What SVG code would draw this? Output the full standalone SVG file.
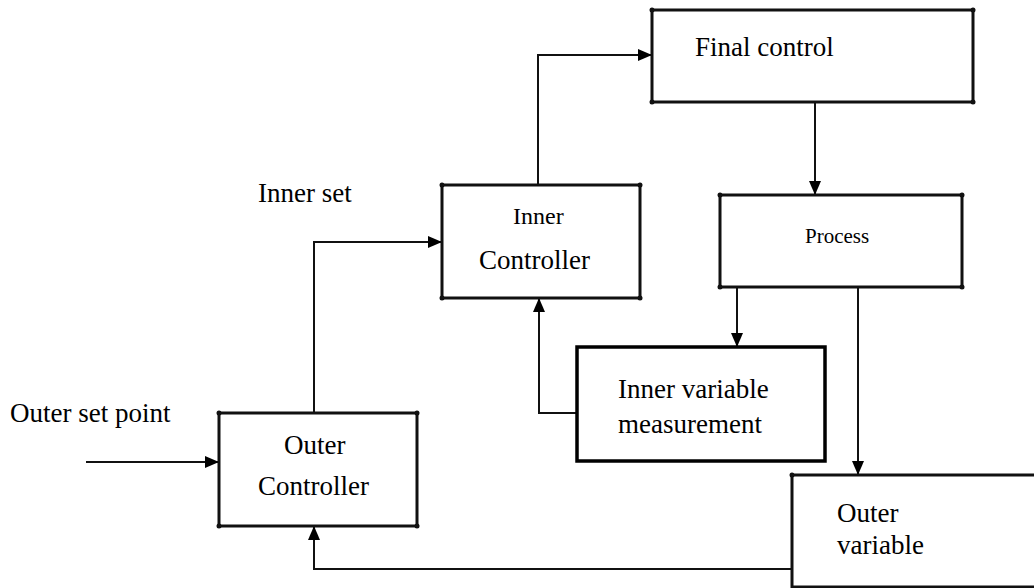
<svg xmlns="http://www.w3.org/2000/svg" width="1034" height="588" viewBox="0 0 1034 588">
<style>
.box{fill:#fff;stroke:#111;stroke-width:3}
.box2{fill:#fff;stroke:#000;stroke-width:3.5}
.dot{fill:#111}
.t{font-family:"Liberation Serif","Times New Roman",serif;fill:#000;font-size:27px}
.s24{font-size:24px}
.s21{font-size:21px}
.c{fill:none;stroke:#111;stroke-width:2;marker-end:url(#ah)}
</style>
<defs>
<marker id="ah" markerUnits="userSpaceOnUse" markerWidth="14" markerHeight="12" refX="13" refY="6" orient="auto">
<path d="M0,0 L14,6 L0,12 Z" fill="#000"/>
</marker>
</defs>
<rect width="1034" height="588" fill="#fff"/>
<g id="connectors">
<path class="c" d="M86,462 H218"/>
<path class="c" d="M314,412 V242 H441"/>
<path class="c" d="M538,184 V55 H651"/>
<path class="c" d="M815,103 V194"/>
<path class="c" d="M737,288 V346"/>
<path class="c" d="M858,288 V474"/>
<path class="c" d="M576,413 H539 V299"/>
<path class="c" d="M791,569 H314 V527"/>
</g>
<text class="t" x="10" y="422">Outer set point</text>
<text class="t" x="258" y="202">Inner set</text>
<g id="final-control">
<rect class="box" x="652" y="10" width="321" height="92"/>
<circle class="dot" cx="652" cy="10" r="2.5"/><circle class="dot" cx="973" cy="10" r="2.5"/><circle class="dot" cx="652" cy="102" r="2.5"/><circle class="dot" cx="973" cy="102" r="2.5"/>
<text class="t" x="695" y="56">Final control</text>
</g>
<g id="inner-controller">
<rect class="box" x="442" y="185" width="198" height="113"/>
<circle class="dot" cx="442" cy="185" r="2.5"/><circle class="dot" cx="640" cy="185" r="2.5"/><circle class="dot" cx="442" cy="298" r="2.5"/><circle class="dot" cx="640" cy="298" r="2.5"/>
<text class="t s24" x="513" y="224">Inner</text>
<text class="t" x="479" y="269">Controller</text>
</g>
<g id="process">
<rect class="box" x="720" y="195" width="242" height="92"/>
<circle class="dot" cx="720" cy="195" r="2.5"/><circle class="dot" cx="962" cy="195" r="2.5"/><circle class="dot" cx="720" cy="287" r="2.5"/><circle class="dot" cx="962" cy="287" r="2.5"/>
<text class="t s21" x="805" y="243">Process</text>
</g>
<g id="inner-variable-measurement">
<rect class="box2" x="577" y="347" width="248" height="114"/>
<text class="t" x="618" y="398">Inner variable</text>
<text class="t" x="618" y="433">measurement</text>
</g>
<g id="outer-controller">
<rect class="box" x="219" y="413" width="198" height="113"/>
<circle class="dot" cx="219" cy="413" r="2.5"/><circle class="dot" cx="417" cy="413" r="2.5"/><circle class="dot" cx="219" cy="526" r="2.5"/><circle class="dot" cx="417" cy="526" r="2.5"/>
<text class="t" x="284" y="454">Outer</text>
<text class="t" x="258" y="495">Controller</text>
</g>
<g id="outer-variable">
<rect class="box" x="792" y="475" width="260" height="112"/>
<circle class="dot" cx="792" cy="475" r="2.5"/>
<text class="t" x="837" y="522">Outer</text>
<text class="t" x="837" y="554">variable</text>
</g>
</svg>
